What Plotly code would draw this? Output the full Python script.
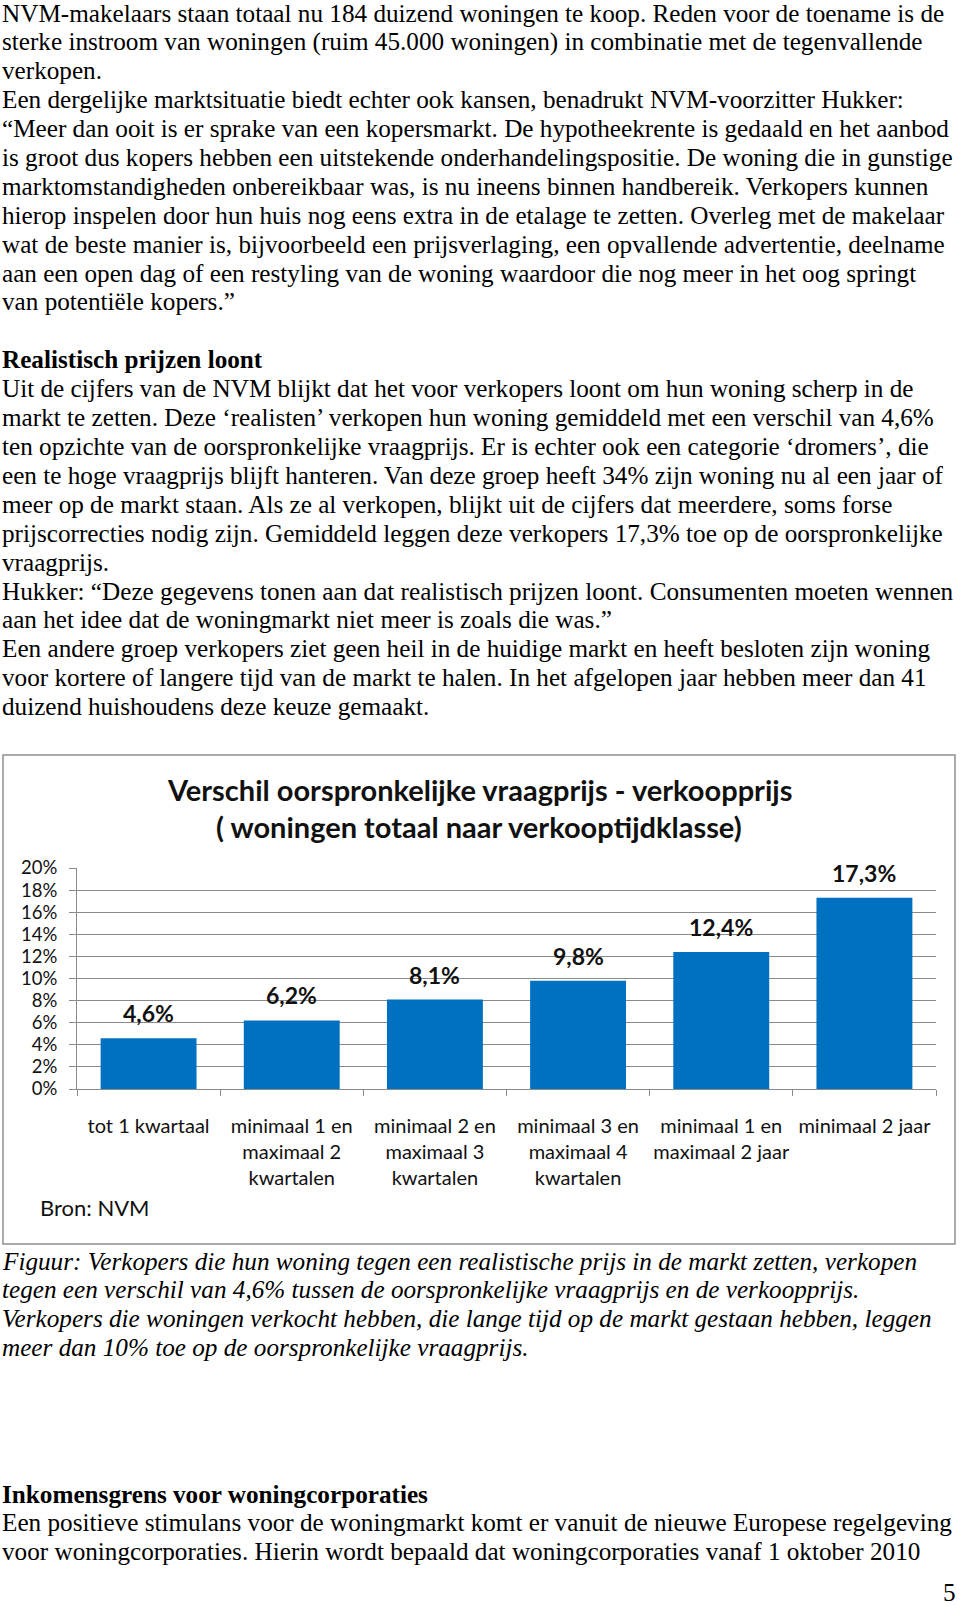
import plotly.graph_objects as go

W, H = 960, 1606

# ---------------- data ----------------
categories = [
    "tot 1 kwartaal",
    "minimaal 1 en<br>maximaal 2<br>kwartalen",
    "minimaal 2 en<br>maximaal 3<br>kwartalen",
    "minimaal 3 en<br>maximaal 4<br>kwartalen",
    "minimaal 1 en<br>maximaal 2 jaar",
    "minimaal 2 jaar",
]
values = [0.046, 0.062, 0.081, 0.098, 0.124, 0.173]
value_labels = ["4,6%", "6,2%", "8,1%", "9,8%", "12,4%", "17,3%"]
chart_title_lines = [
    "Verschil oorspronkelijke vraagprijs - verkoopprijs",
    "( woningen totaal naar verkooptijdklasse)",
]
source_text = "Bron: NVM"

para1 = [
    "NVM-makelaars staan totaal nu 184 duizend woningen te koop. Reden voor de toename is de",
    "sterke instroom van woningen (ruim 45.000 woningen) in combinatie met de tegenvallende",
    "verkopen.",
    "Een dergelijke marktsituatie biedt echter ook kansen, benadrukt NVM-voorzitter Hukker:",
    "\u201cMeer dan ooit is er sprake van een kopersmarkt. De hypotheekrente is gedaald en het aanbod",
    "is groot dus kopers hebben een uitstekende onderhandelingspositie. De woning die in gunstige",
    "marktomstandigheden onbereikbaar was, is nu ineens binnen handbereik. Verkopers kunnen",
    "hierop inspelen door hun huis nog eens extra in de etalage te zetten. Overleg met de makelaar",
    "wat de beste manier is, bijvoorbeeld een prijsverlaging, een opvallende advertentie, deelname",
    "aan een open dag of een restyling van de woning waardoor die nog meer in het oog springt",
    "van potenti\u00eble kopers.\u201d",
]
heading1 = "Realistisch prijzen loont"
para2 = [
    "Uit de cijfers van de NVM blijkt dat het voor verkopers loont om hun woning scherp in de",
    "markt te zetten. Deze \u2018realisten\u2019 verkopen hun woning gemiddeld met een verschil van 4,6%",
    "ten opzichte van de oorspronkelijke vraagprijs. Er is echter ook een categorie \u2018dromers\u2019, die",
    "een te hoge vraagprijs blijft hanteren. Van deze groep heeft 34% zijn woning nu al een jaar of",
    "meer op de markt staan. Als ze al verkopen, blijkt uit de cijfers dat meerdere, soms forse",
    "prijscorrecties nodig zijn. Gemiddeld leggen deze verkopers 17,3% toe op de oorspronkelijke",
    "vraagprijs.",
    "Hukker: \u201cDeze gegevens tonen aan dat realistisch prijzen loont. Consumenten moeten wennen",
    "aan het idee dat de woningmarkt niet meer is zoals die was.\u201d",
    "Een andere groep verkopers ziet geen heil in de huidige markt en heeft besloten zijn woning",
    "voor kortere of langere tijd van de markt te halen. In het afgelopen jaar hebben meer dan 41",
    "duizend huishoudens deze keuze gemaakt.",
]
caption = [
    "Figuur: Verkopers die hun woning tegen een realistische prijs in de markt zetten, verkopen",
    "tegen een verschil van 4,6% tussen de oorspronkelijke vraagprijs en de verkoopprijs.",
    "Verkopers die woningen verkocht hebben, die lange tijd op de markt gestaan hebben, leggen",
    "meer dan 10% toe op de oorspronkelijke vraagprijs.",
]
heading2 = "Inkomensgrens voor woningcorporaties"
para3 = [
    "Een positieve stimulans voor de woningmarkt komt er vanuit de nieuwe Europese regelgeving",
    "voor woningcorporaties. Hierin wordt bepaald dat woningcorporaties vanaf 1 oktober 2010",
]
page_number = "5"

# ---------------- helpers ----------------
def X(px):
    return px / W

def Y(py):
    return 1 - py / H

SERIF = "Liberation Serif"
SANS = "Lato"
BODY_SIZE = 25.2
GRID = "#8a8a8a"

fig = go.Figure(
    go.Bar(
        x=categories,
        y=values,
        marker=dict(color="#0070C0", line=dict(width=0)),
        width=0.67,
        hoverinfo="skip",
    )
)

annotations = []

def text_line(txt, py, px=0, bold=False, italic=False, size=BODY_SIZE, anchor="left"):
    t = txt
    if bold:
        t = "<b>" + t + "</b>"
    if italic:
        t = "<i>" + t + "</i>"
    annotations.append(dict(
        text=t, x=X(px), y=Y(py), xref="paper", yref="paper",
        xanchor=anchor, yanchor="middle", showarrow=False,
        font=dict(family=SERIF, size=size, color="black"),
    ))

step = 28.9
base = 13
for i, line in enumerate(para1):
    text_line(line, base + step * i)
text_line(heading1, base + step * 12, bold=True)
for i, line in enumerate(para2):
    text_line(line, base + step * (13 + i))

for i, line in enumerate(caption):
    text_line(line, 1261 + 28.9 * i, italic=True)
text_line(heading2, 1494, bold=True)
for i, line in enumerate(para3):
    text_line(line, 1522.9 + 28.9 * i)
text_line(page_number, 1592, px=958, anchor="right")

# chart title
for i, line in enumerate(chart_title_lines):
    annotations.append(dict(
        text="<b>" + line + "</b>", x=X(479), y=Y(789 + 38 * i),
        xref="paper", yref="paper", xanchor="center", yanchor="middle",
        showarrow=False, font=dict(family=SANS, size=29, color="#111111"),
    ))

# source
annotations.append(dict(
    text=source_text, x=X(38), y=Y(1207), xref="paper", yref="paper",
    xanchor="left", yanchor="middle", showarrow=False,
    font=dict(family=SANS, size=22, color="#111111"),
))

# value labels above bars (data coordinates)
for c, v, lab in zip(categories, values, value_labels):
    annotations.append(dict(
        text="<b>" + lab + "</b>", x=c, y=v, xref="x", yref="y",
        xanchor="center", yanchor="bottom", yshift=9, showarrow=False,
        font=dict(family=SANS, size=23, color="#111111"),
    ))

fig.update_layout(
    width=W, height=H, autosize=False,
    margin=dict(l=0, r=0, t=0, b=0, pad=0, autoexpand=False),
    paper_bgcolor="white", plot_bgcolor="white",
    showlegend=False,
    annotations=annotations,
    bargap=0.33,
    shapes=[dict(
        type="rect", xref="paper", yref="paper",
        x0=X(3), x1=X(955), y0=Y(1244), y1=Y(755),
        line=dict(color="#8f8f8f", width=1.5), fillcolor="rgba(0,0,0,0)",
        layer="below",
    )],
    xaxis=dict(
        domain=[X(77), X(936)],
        type="category",
        tickson="boundaries",
        ticks="outside", ticklen=6, tickcolor=GRID, tickwidth=1,
        showline=True, linecolor=GRID, linewidth=1,
        showgrid=False, zeroline=False,
        tickfont=dict(family=SANS, size=20, color="#111111"),
        ticklabelstandoff=19,
        tickangle=0,
        automargin=False,
    ),
    yaxis=dict(
        domain=[Y(1089), Y(868)],
        range=[0, 0.20],
        dtick=0.02, tick0=0,
        tickformat=".0%",
        ticks="outside", ticklen=7, tickcolor=GRID, tickwidth=1,
        showline=True, linecolor=GRID, linewidth=1,
        showgrid=True, gridcolor=GRID, gridwidth=1,
        zeroline=False,
        tickfont=dict(family=SANS, size=18.5, color="#111111"),
        ticklabelstandoff=8,
        automargin=False,
    ),
)

fig.write_html(
    "out.html",
    config={"displayModeBar": False, "staticPlot": True},
    post_script="document.body.style.margin='0px';document.body.style.overflow='hidden';",
)
